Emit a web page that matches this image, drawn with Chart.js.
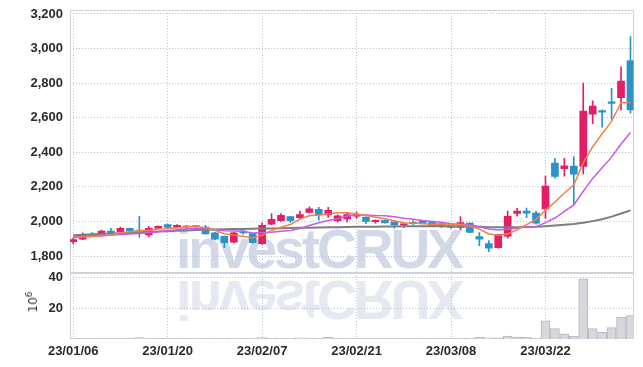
<!DOCTYPE html>
<html><head><meta charset="utf-8">
<script src="https://cdn.jsdelivr.net/npm/chart.js@4/dist/chart.umd.min.js"></script>
<style>
html,body{margin:0;padding:0;background:#fff;}
#wrap{position:relative;width:643px;height:367px;overflow:hidden;background:#fff;}
.wm{position:absolute;left:176px;font-family:'Liberation Sans',Arial,sans-serif;font-weight:bold;font-size:55px;letter-spacing:-3px;color:rgb(210,216,232);line-height:55px;white-space:nowrap;z-index:0;}
#wm1{top:222px;}
#wm2{top:272px;transform:scaleY(-1);opacity:0.55;}
#unit{position:absolute;left:32px;top:302px;transform:translate(-50%,-50%) rotate(-90deg);font-family:'DejaVu Sans',sans-serif;font-size:12px;color:#333;z-index:2;white-space:nowrap;}
canvas{position:absolute;left:0;z-index:1;}
#main{top:0;}
#vol{top:272px;}
</style></head>
<body><div id="wrap">
<div class="wm" id="wm1">investCRUX</div>
<div class="wm" id="wm2">investCRUX</div>
<div id="unit">10<sup style="font-size:9px">6</sup></div>
<canvas id="main" width="643" height="273"></canvas>
<canvas id="vol" width="643" height="95"></canvas>
</div>
<script>
const dates = ['23/01/06','23/01/09','23/01/10','23/01/11','23/01/12','23/01/13','23/01/16','23/01/17','23/01/18','23/01/19',
'23/01/20','23/01/25','23/01/26','23/01/27','23/01/30','23/01/31','23/02/01','23/02/02','23/02/03','23/02/06',
'23/02/07','23/02/08','23/02/09','23/02/10','23/02/13','23/02/14','23/02/15','23/02/16','23/02/17','23/02/20',
'23/02/21','23/02/22','23/02/23','23/02/24','23/02/27','23/02/28','23/03/02','23/03/03','23/03/06','23/03/07',
'23/03/08','23/03/09','23/03/10','23/03/13','23/03/14','23/03/15','23/03/16','23/03/17','23/03/20','23/03/21',
'23/03/22','23/03/23','23/03/24','23/03/27','23/03/28','23/03/29','23/03/30','23/03/31','23/04/03','23/04/04'];
const openP = [1883,1897,1925,1925,1945,1940,1960,1950,1922,1960,
1982,1966,1968,1972,1968,1935,1914,1880,1944,1930,
1872,1985,2005,2028,2022,2053,2070,2038,2005,2015,
2030,2025,1999,2007,1998,1980,1995,2003,2000,1970,
1982,1965,1990,1913,1872,1848,1915,2047,2060,2048,
2072,2338,2306,2320,2318,2620,2641,2692,2716,2930];
const closeP = [1895,1920,1918,1945,1933,1960,1947,1945,1960,1972,
1965,1978,1972,1970,1928,1897,1877,1934,1934,1878,
1978,2012,2035,2005,2040,2073,2038,2065,2033,2040,
2040,2000,2007,1992,1980,1986,1988,1990,1976,1986,
1966,1993,1937,1898,1845,1925,2030,2060,2048,1990,
2204,2260,2322,2273,2638,2668,2632,2683,2812,2645];
const highP = [1905,1935,1936,1950,1960,1967,1962,2030,1972,1975,
1985,1982,1978,1975,1978,1937,1916,1937,1948,1932,
1992,2045,2045,2030,2060,2085,2082,2082,2038,2050,
2055,2027,2009,2010,2000,1988,2005,2006,2002,1988,
1985,2028,1992,1936,1890,1927,2060,2076,2078,2060,
2262,2365,2365,2375,2800,2698,2646,2770,2895,3070];
const lowP = [1870,1895,1912,1922,1930,1937,1945,1908,1912,1958,
1962,1963,1965,1966,1926,1895,1848,1876,1926,1875,
1868,1982,2000,1994,2015,2050,2008,2023,1996,1998,
2018,1988,1990,1990,1961,1964,1980,1987,1972,1965,
1960,1952,1935,1860,1825,1845,1903,2030,2022,1985,
2017,2250,2262,2097,2275,2565,2545,2592,2645,2626];
const ma5 = [1905,1910,1913,1917,1922,1935,1941,1946,1949,1957,
1958,1964,1969,1971,1963,1949,1929,1921,1914,1904,
1920,1947,1967,1982,2014,2033,2038,2044,2050,2050,
2043,2036,2024,2016,2004,1993,1991,1987,1984,1985,
1981,1982,1972,1956,1928,1920,1927,1952,1982,2011,
2066,2112,2165,2210,2339,2432,2507,2579,2687,2688];
const ma10 = [1912,1914,1916,1918,1921,1924,1928,1931,1935,1940,
1947,1952,1958,1960,1960,1953,1946,1945,1943,1933,
1935,1938,1944,1948,1959,1977,1993,2006,2016,2032,
2038,2037,2034,2033,2027,2018,2013,2006,2000,1995,
1987,1986,1979,1970,1957,1950,1955,1962,1969,1969,
1993,2020,2058,2096,2175,2249,2310,2372,2448,2514];
const ma60 = [1921,1923,1926,1928,1930,1932,1935,1938,1940,1942,
1944,1946,1948,1950,1952,1954,1955,1956,1957,1958,
1959,1960,1961,1962,1963,1964,1965,1966,1967,1968,
1969,1970,1970,1971,1971,1972,1972,1972,1972,1972,
1971,1971,1970,1969,1967,1966,1966,1967,1968,1969,
1972,1976,1981,1985,1992,2002,2013,2028,2046,2064];
const volume = [0.3,0.2,0.2,0.3,0.2,0.3,0.2,0.9,0.4,0.2,
0.2,0.2,0.2,0.1,0.3,0.3,0.4,0.4,0.2,0.5,
0.9,0.6,0.5,0.4,0.8,0.6,0.5,1.2,0.3,0.4,
0.3,0.2,0.2,0.2,0.2,0.2,0.2,0.2,0.2,0.3,
0.3,0.5,0.4,1.3,0.8,0.7,1.9,1.3,1.1,0.6,
11.8,6.7,3.4,1.9,38.9,6.7,4.3,7.3,14.2,15.1];
const priceTicks = [1800,2000,2200,2400,2600,2800,3000,3200];
const volTicks = [20,40];
const labelEvery = 10;

const UP = '#e21f66', DOWN = '#2a93c9';
const candleColors = openP.map((o,i)=> closeP[i] >= o ? UP : DOWN);
const tickIdx = dates.map((d,i)=>i).filter(i=> i % labelEvery === 0);
const gridColor = 'rgb(186,193,214)';
const gridDash = [1,2];
const tickFont = {family:"'Liberation Sans',Arial,sans-serif", size:13, weight:'bold'};

const frame = {id:'frame', beforeDatasetsDraw(c){
  const {ctx, chartArea:a} = c; ctx.save(); ctx.strokeStyle='#cfd2dc'; ctx.lineWidth=1;
  ctx.strokeRect(Math.round(a.left)+0.5, Math.round(a.top)+0.5, Math.round(a.right-a.left)-1, Math.round(a.bottom-a.top)-1);
  ctx.restore();
}};

const fitY = s => { s.width = 70; s.paddingTop = 0; s.paddingBottom = 0; };
const xBase = () => ({
  type:'linear', min:-0.34, max:59.32, offset:false,
  afterBuildTicks: s => { s.ticks = tickIdx.map(v=>({value:v})); },
  grid:{color:gridColor, drawTicks:false, offset:false},
  border:{display:false, dash:gridDash}
});

const line = (label, arr, color, w) => ({type:'line', label, data: arr.map((v,i)=>({x:i,y:v})),
  borderColor:color, borderWidth:w, pointRadius:0, tension:0, fill:false, order:0});

new Chart(document.getElementById('main'), {
  type:'bar',
  data:{datasets:[
    line('MA5', ma5, '#f0824a', 1.5),
    line('MA10', ma10, '#c95ae6', 1.5),
    line('MA60', ma60, '#7e7e82', 2),
    {label:'body', data: openP.map((o,i)=>({x:i, y:[o, closeP[i]]})), backgroundColor:candleColors,
      barThickness:7, grouped:false, minBarLength:1, order:1},
    {label:'wick', data: lowP.map((l,i)=>({x:i, y:[l, highP[i]]})), backgroundColor:candleColors,
      barThickness:1, grouped:false, order:2}
  ]},
  options:{
    responsive:false, animation:false, events:[],
    layout:{padding:{top:10,right:9.5,left:0,bottom:0}},
    plugins:{legend:{display:false}, tooltip:{enabled:false}},
    scales:{
      x: Object.assign(xBase(), {ticks:{display:false}, afterFit: s=>{s.height=0; s.paddingLeft=0; s.paddingRight=0;}}),
      y:{min:1702, max:3223,
        afterBuildTicks: s => { s.ticks = priceTicks.map(v=>({value:v})); },
        afterFit: fitY,
        ticks:{padding:7, color:'#2a2a2a', font:tickFont, callback:v=>v.toLocaleString('en-US')},
        grid:{color:gridColor, drawTicks:false},
        border:{display:false, dash:gridDash}}
    }
  },
  plugins:[frame]
});

new Chart(document.getElementById('vol'), {
  type:'bar',
  data:{datasets:[{label:'Volume', data: volume.map((v,i)=>({x:i,y:v})),
    backgroundColor:'#d7d7de', borderColor:'#b6b6c0', borderWidth:1, barThickness:9}]},
  options:{
    responsive:false, animation:false, events:[],
    layout:{padding:{top:1,right:9.5,left:0,bottom:0}},
    plugins:{legend:{display:false}, tooltip:{enabled:false}},
    scales:{
      x: Object.assign(xBase(), {
        ticks:{display:true, autoSkip:false, maxRotation:0, padding:5, color:'#2a2a2a', font:tickFont,
          callback: v => dates[v]},
        afterFit: s=>{s.height=28; s.paddingLeft=0; s.paddingRight=0;}}),
      y:{min:0, max:42.6,
        afterBuildTicks: s => { s.ticks = volTicks.map(v=>({value:v})); },
        afterFit: fitY,
        ticks:{padding:7, color:'#2a2a2a', font:tickFont},
        grid:{color:gridColor, drawTicks:false},
        border:{display:false, dash:gridDash}}
    }
  },
  plugins:[frame]
});
</script>
</body></html>
